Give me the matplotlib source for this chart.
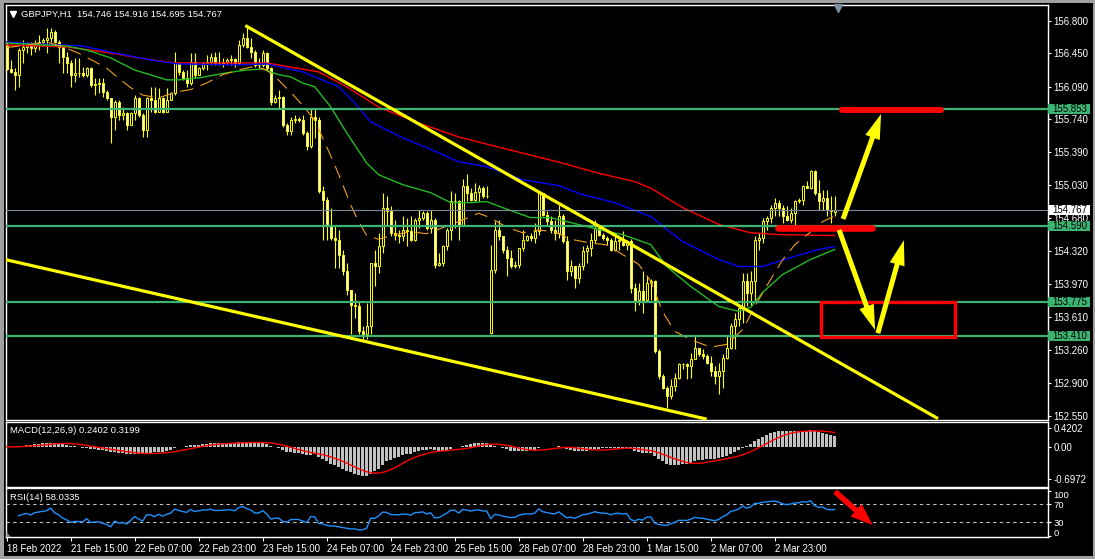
import numpy as np
import pandas as pd
import matplotlib
matplotlib.use("Agg")
import matplotlib.pyplot as plt
from matplotlib.patches import Rectangle, FancyArrowPatch, Polygon
from matplotlib.transforms import blended_transform_factory, offset_copy
from matplotlib.lines import Line2D

plt.rcParams['font.family'] = ['Liberation Sans', 'DejaVu Sans']

# ---------------- data (GBPJPY H1) ----------------
opens = [
 156.539,156.278,156.253,156.217,156.485,156.521,156.539,156.503,156.557,156.574,
 156.592,156.610,156.682,156.574,156.521,156.414,156.342,156.217,156.242,156.235,
 156.217,156.288,156.110,156.120,156.127,156.038,155.966,155.770,155.931,155.788,
 155.805,155.680,155.805,155.966,155.788,155.627,155.966,155.949,155.823,155.966,
 155.823,155.949,156.020,156.342,156.253,156.181,156.127,156.360,156.217,156.288,
 156.342,156.360,156.414,156.342,156.342,156.360,156.378,156.385,156.342,156.539,
 156.610,156.521,156.467,156.324,156.324,156.449,156.288,155.931,155.966,155.984,
 155.680,155.609,155.734,155.741,155.734,155.598,155.448,155.770,155.734,154.965,
 154.876,154.607,154.464,154.446,154.285,154.106,153.909,153.748,153.730,153.462,
 153.427,153.516,154.196,154.160,154.375,154.786,154.750,154.518,154.500,154.482,
 154.554,154.536,154.446,154.661,154.679,154.732,154.571,154.661,154.178,154.196,
 154.375,154.554,154.858,154.858,154.607,155.019,154.947,154.876,154.954,155.001,
 154.911,153.444,154.124,154.554,154.482,154.339,154.249,154.160,154.178,154.357,
 154.446,154.482,154.464,154.536,154.947,154.714,154.643,154.554,154.518,154.697,
 154.428,154.106,154.160,154.034,154.160,154.321,154.357,154.446,154.571,154.500,
 154.464,154.446,154.339,154.428,154.446,154.393,154.428,153.927,153.801,153.891,
 153.801,153.981,153.999,153.248,152.979,152.854,152.765,152.872,152.962,153.105,
 153.105,153.087,153.158,153.284,153.212,153.194,153.123,153.033,152.979,153.033,
 153.176,153.284,153.516,153.588,153.712,153.999,153.873,153.999,154.446,154.464,
 154.643,154.679,154.786,154.840,154.786,154.697,154.661,154.732,154.858,154.876,
 155.019,155.001,155.179,154.947,154.858,154.893,154.768,154.746]
highs = [
 156.574,156.378,156.288,156.503,156.592,156.574,156.574,156.592,156.646,156.610,
 156.718,156.718,156.700,156.592,156.539,156.467,156.378,156.396,156.396,156.306,
 156.306,156.306,156.181,156.181,156.181,156.056,155.966,155.949,155.949,155.877,
 155.823,155.823,156.002,155.984,155.805,155.984,156.092,156.092,156.074,155.984,
 156.074,156.038,156.467,156.360,156.270,156.270,156.449,156.449,156.306,156.360,
 156.431,156.449,156.467,156.467,156.396,156.396,156.431,156.396,156.592,156.664,
 156.743,156.610,156.485,156.396,156.485,156.467,156.306,156.002,156.056,155.995,
 155.698,155.770,155.788,155.770,155.788,155.609,155.859,155.859,155.770,155.019,
 154.900,154.786,154.607,154.554,154.339,154.196,153.909,153.873,153.783,153.516,
 153.766,154.196,154.339,154.518,154.947,154.911,154.804,154.661,154.554,154.697,
 154.679,154.697,154.679,154.768,154.750,154.750,154.768,154.679,154.303,154.393,
 154.571,154.965,154.947,154.876,155.097,155.151,155.001,155.054,155.036,155.019,
 155.019,154.393,154.643,154.661,154.482,154.375,154.339,154.214,154.357,154.554,
 154.500,154.518,154.625,154.965,154.947,154.750,154.697,154.661,154.822,154.720,
 154.482,154.231,154.160,154.196,154.375,154.393,154.518,154.661,154.607,154.518,
 154.482,154.460,154.518,154.482,154.536,154.446,154.450,153.981,153.981,154.106,
 154.052,154.020,154.010,153.266,152.997,152.872,152.944,153.015,153.123,153.123,
 153.123,153.230,153.409,153.284,153.266,153.212,153.194,153.087,153.123,153.212,
 153.409,153.552,153.659,153.748,154.088,154.088,154.106,154.482,154.518,154.679,
 154.697,154.822,154.893,154.876,154.822,154.804,154.786,154.876,154.893,155.030,
 155.072,155.197,155.197,155.090,154.983,154.983,154.911,154.916]
lows = [
 156.270,156.235,156.056,156.092,156.342,156.449,156.431,156.467,156.485,156.539,
 156.449,156.574,156.557,156.342,156.235,156.242,156.092,156.145,156.199,156.199,
 156.199,156.092,156.002,156.020,155.984,155.949,155.484,155.627,155.734,155.734,
 155.627,155.680,155.734,155.770,155.555,155.548,155.823,155.805,155.823,155.812,
 155.823,155.949,156.002,156.217,156.163,156.092,156.110,156.181,156.217,156.270,
 156.270,156.324,156.324,156.324,156.306,156.324,156.324,156.306,156.324,156.521,
 156.503,156.396,156.306,156.288,156.306,156.270,155.895,155.913,155.859,155.662,
 155.573,155.573,155.698,155.716,155.573,155.412,155.430,155.537,154.947,154.446,
 154.446,154.446,154.142,154.142,154.070,153.855,153.427,153.605,153.427,153.373,
 153.373,153.427,153.945,154.088,154.303,154.589,154.482,154.446,154.410,154.428,
 154.375,154.428,154.428,154.571,154.661,154.554,154.518,154.142,154.160,154.160,
 154.339,154.446,154.571,154.446,154.589,154.858,154.858,154.858,154.858,154.893,
 154.893,153.427,154.088,154.446,154.303,154.052,154.142,154.142,154.142,154.321,
 154.428,154.428,154.410,154.500,154.697,154.589,154.518,154.446,154.464,154.410,
 154.016,154.052,153.927,153.981,154.124,154.196,154.267,154.410,154.482,154.446,
 154.393,154.321,154.321,154.339,154.375,154.339,153.873,153.677,153.748,153.659,
 153.783,153.801,153.230,152.944,152.837,152.640,152.729,152.819,152.944,153.051,
 152.944,152.962,153.158,153.194,153.158,153.105,152.979,152.890,152.783,152.854,
 153.158,153.266,153.266,153.516,153.552,153.730,153.730,153.783,154.339,154.410,
 154.554,154.625,154.697,154.697,154.625,154.643,154.625,154.607,154.840,154.822,
 155.001,154.990,154.929,154.768,154.768,154.697,154.625,154.695]
closes = [
 156.278,156.253,156.217,156.485,156.521,156.539,156.503,156.557,156.574,156.592,
 156.610,156.682,156.574,156.521,156.414,156.342,156.217,156.242,156.235,156.217,
 156.288,156.110,156.120,156.127,156.038,155.966,155.770,155.931,155.788,155.805,
 155.680,155.805,155.966,155.788,155.627,155.966,155.949,155.823,155.966,155.823,
 155.949,156.020,156.342,156.253,156.181,156.127,156.360,156.217,156.288,156.342,
 156.360,156.414,156.342,156.342,156.360,156.378,156.385,156.342,156.539,156.610,
 156.521,156.467,156.324,156.324,156.449,156.288,155.931,155.966,155.984,155.680,
 155.609,155.734,155.741,155.734,155.598,155.448,155.770,155.734,154.965,154.876,
 154.607,154.464,154.446,154.285,154.106,153.909,153.748,153.730,153.462,153.427,
 153.516,154.196,154.160,154.375,154.786,154.750,154.518,154.500,154.482,154.554,
 154.536,154.446,154.661,154.679,154.732,154.571,154.661,154.178,154.196,154.375,
 154.554,154.858,154.858,154.607,155.019,154.947,154.876,154.954,155.001,154.911,
 154.911,154.124,154.554,154.482,154.339,154.249,154.160,154.178,154.357,154.446,
 154.482,154.464,154.536,154.947,154.714,154.643,154.554,154.518,154.697,154.428,
 154.106,154.160,154.034,154.160,154.321,154.357,154.446,154.571,154.500,154.464,
 154.446,154.339,154.428,154.446,154.393,154.428,153.927,153.801,153.891,153.801,
 153.981,153.999,153.248,152.979,152.854,152.765,152.872,152.962,153.105,153.105,
 153.087,153.158,153.284,153.212,153.194,153.123,153.033,152.979,153.033,153.176,
 153.284,153.516,153.588,153.712,153.999,153.873,153.999,154.446,154.464,154.643,
 154.679,154.786,154.840,154.786,154.697,154.661,154.732,154.858,154.876,155.019,
 155.001,155.179,154.947,154.858,154.893,154.768,154.750,154.767]

time_labels = ["18 Feb 2022", "21 Feb 15:00", "22 Feb 07:00", "22 Feb 23:00",
               "23 Feb 15:00", "24 Feb 07:00", "24 Feb 23:00", "25 Feb 15:00",
               "28 Feb 07:00", "28 Feb 23:00", "1 Mar 15:00", "2 Mar 07:00",
               "2 Mar 23:00"]
price_ticks = [156.800, 156.450, 156.090, 155.740, 155.390, 155.030, 154.680,
               154.320, 153.970, 153.610, 153.260, 152.900, 152.550]
levels = [155.853, 154.590, 153.775, 153.410]
bid = 154.767

ma_red_idx = [0, 15, 26, 33, 42, 57, 65, 78, 85, 93, 103, 113, 124, 138, 148, 157, 161, 169, 178, 186, 193, 207]
ma_red_val = [156.539, 156.518, 156.453, 156.40, 156.346, 156.346, 156.346, 156.25, 156.09, 155.87, 155.70,
              155.55, 155.43, 155.28, 155.16, 155.07, 155.00, 154.79, 154.61, 154.52, 154.50, 154.49]
ma_blue_idx = [0, 19, 27, 36, 43, 57, 65, 74, 83, 87, 91, 99, 108, 113, 120, 124, 129, 138, 144, 152,
               161, 169, 178, 183, 189, 196, 203, 207]
ma_blue_val = [156.57, 156.528, 156.453, 156.378, 156.335, 156.325, 156.335, 156.25, 156.09, 155.917,
               155.713, 155.541, 155.38, 155.284, 155.23, 155.166, 155.09, 155.027, 154.93, 154.844,
               154.694, 154.425, 154.232, 154.157, 154.157, 154.254, 154.34, 154.372]
ma_green_idx = [0, 15, 20, 26, 32, 40, 43, 48, 55, 60, 64, 68, 71, 74, 77, 81, 85, 90, 93, 99,
                106, 111, 116, 120, 124, 131, 136, 141, 148, 154, 161, 165, 171, 178, 183, 186, 189, 194, 201, 207]
ma_green_val = [156.56, 156.528, 156.485, 156.40, 156.27, 156.164, 156.164, 156.185, 156.24, 156.27,
                156.28, 156.22, 156.196, 156.13, 156.09, 155.874, 155.595, 155.27, 155.144, 155.037,
                154.951, 154.844, 154.844, 154.855, 154.79, 154.683, 154.683, 154.63, 154.554, 154.50,
                154.393, 154.157, 153.943, 153.728, 153.675, 153.718, 153.879, 154.072, 154.233, 154.34]
ma_orange_idx = [0, 5, 10, 14, 18, 22, 25, 28, 31, 34, 38, 42, 46, 50, 54, 58, 62, 65, 68, 71,
                 74, 77, 79, 82, 84, 86, 88, 90, 93, 97, 101, 105, 113, 118, 121, 125, 129, 133, 137, 141,
                 146, 150, 158, 161, 164, 167, 171, 176, 180, 184, 188, 191, 194, 197, 201, 204, 207]
ma_orange_val = [156.51, 156.54, 156.57, 156.52, 156.45, 156.36, 156.29, 156.18, 156.08, 156.0,
                 155.97, 156.03, 156.06, 156.13, 156.22, 156.27, 156.31, 156.27, 156.16, 156.03,
                 155.89, 155.73, 155.54, 155.25, 155.04, 154.82, 154.64, 154.49, 154.45, 154.50,
                 154.53, 154.51, 154.64, 154.73, 154.68, 154.58, 154.52, 154.55, 154.53, 154.45,
                 154.41, 154.39, 154.18, 154.0, 153.67, 153.46, 153.37, 153.29, 153.32, 153.48,
                 153.80, 154.02, 154.23, 154.39, 154.53, 154.64, 154.70]

# analyst drawings (bar index, price)
trend_upper_x = [60, 232.5]
trend_upper_y = [156.74, 152.53]
trend_lower_x = [-0.2, 174.6]
trend_lower_y = [154.23, 152.52]
target_top_x = [208.8, 233.5]
target_top_y = 155.835
target_mid_x = [192.8, 216.4]
target_mid_y = 154.568
zone_x = [203.7, 237.1]
zone_y = [153.40, 153.776]
arrows_yellow = [((209.1, 154.668), (218.6, 155.797)),
                 ((208.1, 154.55), (217.1, 153.475)),
                 ((217.8, 153.44), (224.3, 154.44))]
arrow_rsi = ((207.1, 98.0), (216.5, 24.0))

# ---------------- figure ----------------
W, H = 1095, 559
fig = plt.figure(figsize=(W / 100, H / 100), dpi=100, facecolor='black')

def px_axes(x0, y0, x1, y1):
    a = fig.add_axes([x0 / W, 1 - y1 / H, (x1 - x0) / W, (y1 - y0) / H])
    a.set_facecolor('black')
    for s in a.spines.values():
        s.set_color('white')
        s.set_linewidth(1.0)
    return a

ax = px_axes(6, 5, 1048, 419.5)
axm = px_axes(6, 421.7, 1048, 486.5)
axr = px_axes(6, 488.3, 1048, 537.3)

o = np.array(opens); h = np.array(highs); l = np.array(lows); c = np.array(closes)
n = len(c)
idx = np.arange(n)
XL = (-0.175, 260.33)
for a in (ax, axm, axr):
    a.set_xlim(*XL)

YEL = '#FFFF00'
# candles
ax.vlines(idx, l, h, color=YEL, lw=0.8, zorder=2)
bull = c >= o
body_b = np.minimum(o, c)
body_h = np.maximum(np.abs(c - o), 0.003)
ax.bar(idx, body_h, bottom=body_b, width=0.55,
       color=np.where(bull, 'black', 'white'), edgecolor=YEL, linewidth=0.7, zorder=3)

# moving averages
ax.plot(ma_red_idx, ma_red_val, color='#FF0000', lw=1.0, zorder=4)
ax.plot(ma_blue_idx, ma_blue_val, color='#0000FF', lw=1.0, zorder=4)
ax.plot(ma_green_idx, ma_green_val, color='#22BB22', lw=1.0, zorder=4)
ax.plot(ma_orange_idx, ma_orange_val, color='#F0A020', lw=0.8, zorder=4,
        linestyle=(0, (12, 7)))

# levels
for lv in levels:
    ax.axhline(lv, color='#3CB371', lw=1.6, zorder=5)
ax.axhline(bid, color='#778899', lw=0.8, zorder=5)

# trendlines
ax.plot(trend_upper_x, trend_upper_y, color=YEL, lw=2.3, zorder=6)
ax.plot(trend_lower_x, trend_lower_y, color=YEL, lw=2.3, zorder=6)

# red marks
ax.plot(target_top_x, [target_top_y] * 2, color='#FF0000', lw=4.3, solid_capstyle='round', zorder=7)
ax.plot(target_mid_x, [target_mid_y] * 2, color='#FF0000', lw=4.8, solid_capstyle='round', zorder=7)
ax.add_patch(Rectangle((zone_x[0], zone_y[0]), zone_x[1] - zone_x[0], zone_y[1] - zone_y[0],
                       fill=False, ec='#FF0000', lw=2.4, zorder=7))

for tail, tip in arrows_yellow:
    ax.add_patch(FancyArrowPatch(tail, tip,
                 arrowstyle='simple,head_length=1.8,head_width=1.1,tail_width=0.36',
                 mutation_scale=10, color=YEL, lw=0, shrinkA=0, shrinkB=0, zorder=8))

ymin, ymax = 152.512, 156.969
ax.set_ylim(ymin, ymax)
ax.tick_params(axis='x', bottom=False, labelbottom=False)
ax.yaxis.tick_right()
ax.set_yticks(price_ticks)
ax.set_yticklabels([f"{p:.3f}" for p in price_ticks])
ax.tick_params(axis='y', colors='white', length=2.5, width=0.8, labelsize=7, pad=1.5)

# price boxes
trans = blended_transform_factory(ax.transAxes, ax.transData)
bh = 10.5 / 414.5 * (ymax - ymin)
def price_box(p, fc):
    ax.add_patch(Rectangle((1.0003, p - bh / 2), 42 / 1042, bh, transform=trans,
                           fc=fc, ec='none', clip_on=False, zorder=10))
    ax.text(1.0046, p, f"{p:.3f}", transform=trans, color='black', fontsize=7,
            va='center', ha='left', zorder=11, clip_on=False)
for lv in levels:
    price_box(lv, '#3CB371')
price_box(bid, 'white')

# ---------------- MACD ----------------
cs = pd.Series(c)
ema12 = cs.ewm(span=12, adjust=False).mean()
ema26 = cs.ewm(span=26, adjust=False).mean()
macd = ema12 - ema26
signal = macd.rolling(9, min_periods=1).mean()
axm.bar(idx, macd.values, width=0.7, color='#C0C0C0', zorder=2)
axm.plot(idx, signal.values, color='#FF0000', lw=1.0, zorder=3)
axm.set_ylim(-0.872, 0.552)
axm.tick_params(axis='x', bottom=False, labelbottom=False)
axm.yaxis.tick_right()
axm.set_yticks([0.4202, 0.0, -0.6972])
axm.set_yticklabels(['0.4202', '0.00', '-0.6972'])
axm.tick_params(axis='y', colors='white', length=2.5, width=0.8, labelsize=7, pad=1.5)

# ---------------- RSI ----------------
d = cs.diff()
up = d.clip(lower=0)
dn = -d.clip(upper=0)
au = up.ewm(alpha=1 / 14, adjust=False).mean()
ad = dn.ewm(alpha=1 / 14, adjust=False).mean()
rsi = 100 - 100 / (1 + au / ad)
rsi.iloc[:3] = np.nan
axr.plot(idx, rsi.values, color='#1E90FF', lw=1.0, zorder=3)
for lv in (70, 30):
    axr.axhline(lv, color='#C0C0C0', lw=0.8, linestyle=(0, (3, 3)), zorder=2)
axr.set_ylim(-3.3, 105.5)
axr.yaxis.tick_right()
axr.set_yticks([100, 70, 30, 0])
axr.set_yticklabels(['100', '70', '30', '0'])
axr.tick_params(axis='y', colors='white', length=2.5, width=0.8, labelsize=6.8, pad=1.5)
labs = axr.get_yticklabels()
labs[0].set_va('top')
labs[3].set_va('bottom')
labs[3].set_transform(offset_copy(labs[3].get_transform(), fig=fig, x=0, y=-1.5, units='points'))
axr.set_xticks([16 * k for k in range(len(time_labels))])
axr.set_xticklabels(time_labels, ha='left')
axr.tick_params(axis='x', colors='white', length=3, width=0.8, labelsize=7, pad=1.5)
axr.add_patch(FancyArrowPatch(arrow_rsi[0], arrow_rsi[1],
              arrowstyle='simple,head_length=1.6,head_width=1.2,tail_width=0.4',
              mutation_scale=10, color='#FF0000', lw=0, shrinkA=0, shrinkB=0, zorder=8))

# ---------------- labels & frame ----------------
def fx(x): return x / W
def fy(y): return 1 - y / H

fig.text(fx(21), fy(14), "GBPJPY,H1  154.746 154.916 154.695 154.767", color='white',
         fontsize=6.8, va='center', ha='left')
fig.add_artist(Line2D([fx(13)], [fy(13.5)], marker='v', ms=4.5, color='white',
                      mec='white', transform=fig.transFigure))
fig.text(fx(10), fy(430.5), "MACD(12,26,9) 0.2402 0.3199", color='white',
         fontsize=6.8, va='center', ha='left')
fig.text(fx(10), fy(497.5), "RSI(14) 58.0335", color='white',
         fontsize=6.8, va='center', ha='left')
fig.add_artist(Line2D([fx(838)], [fy(7.5)], marker='v', ms=6, color='#8090A0',
                      mec='#8090A0', transform=fig.transFigure))
fig.add_artist(Polygon([[fx(6.5), fy(537)], [fx(6.5), fy(532)], [fx(11), fy(537)]],
                       closed=True, fc='#808080', ec='none', transform=fig.transFigure))

for (x0, y0, x1, y1) in [(0, 0, W, 3), (0, H - 3, W, H), (0, 0, 4, H), (W - 2, 0, W, H)]:
    fig.add_artist(Rectangle((fx(x0), fy(y1)), (x1 - x0) / W, (y1 - y0) / H,
                             fc='#A0A0A0', ec='none', transform=fig.transFigure))

fig.savefig("out.png", dpi=100, facecolor='black')
